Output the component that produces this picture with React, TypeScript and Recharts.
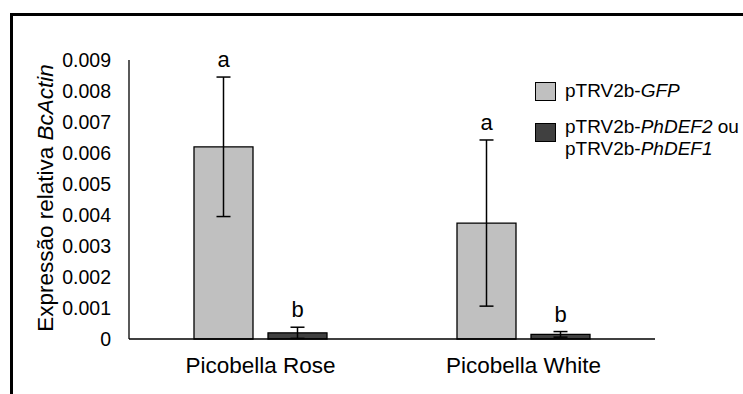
import { BarChart, Bar, XAxis, YAxis, Legend, ErrorBar, LabelList } from 'recharts';

const categories = ['Picobella Rose', 'Picobella White'];
const gfpValues = [0.0062, 0.00374];
const gfpErrors = [0.00225, 0.00268];
const gfpLetters = ['a', 'a'];
const defValues = [0.0002, 0.00015];
const defErrors = [0.00018, 0.00009];
const defLetters = ['b', 'b'];
const yTicks = [0, 0.001, 0.002, 0.003, 0.004, 0.005, 0.006, 0.007, 0.008, 0.009];

const FONT = '"Liberation Sans", Arial, sans-serif';
const GFP_FILL = '#c0c0c0';
const DEF_FILL = '#404040';

const data = categories.map((name, i) => ({
  name,
  gfp: gfpValues[i],
  gfpErr: gfpErrors[i],
  gfpLetter: gfpLetters[i],
  def: defValues[i],
  defErr: defErrors[i],
  defLetter: defLetters[i],
}));

// letter sits just above the top of the error bar
const letterLabel = (values: number[], errors: number[]) => (props: any) => {
  const { x, y, width, height, value, index } = props;
  const v = values[index];
  const pxPerUnit = v ? height / v : 0;
  const top = y - errors[index] * pxPerUnit;
  return (
    <text
      x={x + width / 2}
      y={top - 10}
      textAnchor="middle"
      fontSize={22}
      fontFamily={FONT}
      fill="#000"
    >
      {value}
    </text>
  );
};

const YLabel = () => (
  <text
    x={53}
    y={198}
    transform="rotate(-90, 53, 198)"
    textAnchor="middle"
    fontSize={22.5}
    fontFamily={FONT}
    fill="#000"
  >
    Expressão relativa <tspan fontStyle="italic">BcActin</tspan>
  </text>
);

const LegendBox = () => (
  <div style={{ position: 'relative', width: 210, height: 90, fontFamily: FONT, fontSize: 19, lineHeight: '22px', color: '#000' }}>
    <div style={{ position: 'absolute', left: 0, top: 2, width: 19, height: 17, background: GFP_FILL, border: '1.3px solid #000' }} />
    <div style={{ position: 'absolute', left: 30, top: 0, whiteSpace: 'nowrap' }}>
      pTRV2b-<i>GFP</i>
    </div>
    <div style={{ position: 'absolute', left: 0, top: 43, width: 19, height: 17, background: DEF_FILL, border: '1.3px solid #000' }} />
    <div style={{ position: 'absolute', left: 30, top: 36, whiteSpace: 'nowrap' }}>
      pTRV2b-<i>PhDEF2</i> ou
      <br />
      pTRV2b-<i>PhDEF1</i>
    </div>
  </div>
);

export default function App() {
  return (
    <div style={{ position: 'absolute', left: 0, top: 0, width: 743, height: 394, background: '#fff', overflow: 'hidden' }}>
      <div
        style={{
          position: 'absolute',
          left: 10,
          top: 13,
          width: 760,
          height: 400,
          borderTop: '3px solid #000',
          borderLeft: '3px solid #000',
        }}
      />
      <div style={{ position: 'absolute', left: 0, top: 0 }}>
        <BarChart
          width={743}
          height={394}
          data={data}
          margin={{ top: 60, right: 88, left: 69, bottom: 25 }}
          barSize={59}
          barGap={15}
        >
          <XAxis
            dataKey="name"
            axisLine={{ stroke: '#000', strokeWidth: 1.3 }}
            tickLine={false}
            tickSize={0}
            tickMargin={18}
            height={30}
            tick={{ fontSize: 22.5, fill: '#000', fontFamily: FONT }}
          />
          <YAxis
            domain={[0, 0.009]}
            ticks={yTicks}
            interval={0}
            width={60}
            axisLine={{ stroke: '#000', strokeWidth: 1.3 }}
            tickLine={false}
            tickSize={0}
            tickMargin={18}
            tickFormatter={(v: number) => (v === 0 ? '0' : v.toFixed(3))}
            tick={{ fontSize: 19.5, fill: '#000', fontFamily: FONT }}
            label={{ content: <YLabel /> }}
          />
          <Legend
            layout="vertical"
            align="center"
            verticalAlign="middle"
            wrapperStyle={{ left: 535, top: 80, width: 210 }}
            content={() => <LegendBox />}
          />
          <Bar dataKey="gfp" fill={GFP_FILL} stroke="#000" strokeWidth={1.3} isAnimationActive={false}>
            <ErrorBar dataKey="gfpErr" width={7} stroke="#000" strokeWidth={1.5} direction="y" />
            <LabelList dataKey="gfpLetter" content={letterLabel(gfpValues, gfpErrors)} />
          </Bar>
          <Bar dataKey="def" fill={DEF_FILL} stroke="#000" strokeWidth={1.3} isAnimationActive={false}>
            <ErrorBar dataKey="defErr" width={7} stroke="#000" strokeWidth={1.5} direction="y" />
            <LabelList dataKey="defLetter" content={letterLabel(defValues, defErrors)} />
          </Bar>
        </BarChart>
      </div>
    </div>
  );
}
